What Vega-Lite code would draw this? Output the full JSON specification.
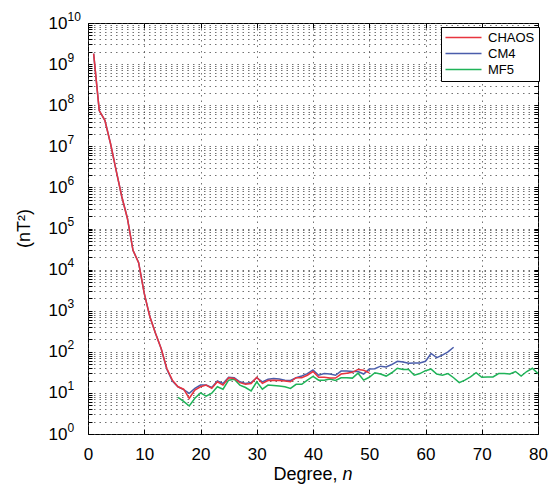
{
 "$schema": "https://vega.github.io/schema/vega-lite/v6.json",
 "width": 450,
 "height": 411,
 "autosize": {"type": "none"},
 "padding": {"left": 88, "top": 23, "right": 10, "bottom": 50},
 "config": {
  "view": {"stroke": "#000", "strokeWidth": 1},
  "font": "Liberation Sans",
  "axis": {"domain": false, "labelFlush": false, "labelOverlap": false, "labelBound": false, "labelColor": "#000", "titleColor": "#000", "tickColor": "#000", "gridColor": "#444", "gridDash": [1.5, 4], "gridOpacity": 0.75}
 },
 "datasets": {
  "spectra": [
   {"degree": 1, "model": "CHAOS", "power": 1.8e9}, {"degree": 2, "model": "CHAOS", "power": 7.4e7}, {"degree": 3, "model": "CHAOS", "power": 4.3e7}, {"degree": 4, "model": "CHAOS", "power": 1.17e7}, {"degree": 5, "model": "CHAOS", "power": 2.6e6}, {"degree": 6, "model": "CHAOS", "power": 6.0e5}, {"degree": 7, "model": "CHAOS", "power": 1.78e5}, {"degree": 8, "model": "CHAOS", "power": 2.95e4}, {"degree": 9, "model": "CHAOS", "power": 1.48e4}, {"degree": 10, "model": "CHAOS", "power": 2630}, {"degree": 11, "model": "CHAOS", "power": 708}, {"degree": 12, "model": "CHAOS", "power": 282}, {"degree": 13, "model": "CHAOS", "power": 120}, {"degree": 14, "model": "CHAOS", "power": 39.8}, {"degree": 15, "model": "CHAOS", "power": 20.4}, {"degree": 16, "model": "CHAOS", "power": 14.1}, {"degree": 17, "model": "CHAOS", "power": 12.3}, {"degree": 18, "model": "CHAOS", "power": 7.4}, {"degree": 19, "model": "CHAOS", "power": 11.7}, {"degree": 20, "model": "CHAOS", "power": 14.1}, {"degree": 21, "model": "CHAOS", "power": 15.5}, {"degree": 22, "model": "CHAOS", "power": 12.9}, {"degree": 23, "model": "CHAOS", "power": 18.6}, {"degree": 24, "model": "CHAOS", "power": 15.5}, {"degree": 25, "model": "CHAOS", "power": 23.4}, {"degree": 26, "model": "CHAOS", "power": 22.4}, {"degree": 27, "model": "CHAOS", "power": 17.8}, {"degree": 28, "model": "CHAOS", "power": 16.2}, {"degree": 29, "model": "CHAOS", "power": 17.0}, {"degree": 30, "model": "CHAOS", "power": 24.0}, {"degree": 31, "model": "CHAOS", "power": 17.0}, {"degree": 32, "model": "CHAOS", "power": 20.0}, {"degree": 33, "model": "CHAOS", "power": 20.4}, {"degree": 34, "model": "CHAOS", "power": 20.0}, {"degree": 35, "model": "CHAOS", "power": 19.5}, {"degree": 36, "model": "CHAOS", "power": 18.6}, {"degree": 37, "model": "CHAOS", "power": 23.4}, {"degree": 38, "model": "CHAOS", "power": 23.4}, {"degree": 39, "model": "CHAOS", "power": 26.9}, {"degree": 40, "model": "CHAOS", "power": 33.1}, {"degree": 41, "model": "CHAOS", "power": 24.0}, {"degree": 42, "model": "CHAOS", "power": 24.0}, {"degree": 43, "model": "CHAOS", "power": 22.9}, {"degree": 44, "model": "CHAOS", "power": 22.9}, {"degree": 45, "model": "CHAOS", "power": 28.8}, {"degree": 46, "model": "CHAOS", "power": 30.2}, {"degree": 47, "model": "CHAOS", "power": 31.6}, {"degree": 48, "model": "CHAOS", "power": 37.2}, {"degree": 49, "model": "CHAOS", "power": 35.5}, {"degree": 50, "model": "CHAOS", "power": 30.9},
   {"degree": 1, "model": "CM4", "power": 1.8e9}, {"degree": 2, "model": "CM4", "power": 7.4e7}, {"degree": 3, "model": "CM4", "power": 4.3e7}, {"degree": 4, "model": "CM4", "power": 1.17e7}, {"degree": 5, "model": "CM4", "power": 2.6e6}, {"degree": 6, "model": "CM4", "power": 6.0e5}, {"degree": 7, "model": "CM4", "power": 1.78e5}, {"degree": 8, "model": "CM4", "power": 2.95e4}, {"degree": 9, "model": "CM4", "power": 1.48e4}, {"degree": 10, "model": "CM4", "power": 2630}, {"degree": 11, "model": "CM4", "power": 708}, {"degree": 12, "model": "CM4", "power": 282}, {"degree": 13, "model": "CM4", "power": 120}, {"degree": 14, "model": "CM4", "power": 38.0}, {"degree": 15, "model": "CM4", "power": 19.5}, {"degree": 16, "model": "CM4", "power": 14.1}, {"degree": 17, "model": "CM4", "power": 12.0}, {"degree": 18, "model": "CM4", "power": 9.8}, {"degree": 19, "model": "CM4", "power": 12.9}, {"degree": 20, "model": "CM4", "power": 15.5}, {"degree": 21, "model": "CM4", "power": 15.5}, {"degree": 22, "model": "CM4", "power": 13.5}, {"degree": 23, "model": "CM4", "power": 19.5}, {"degree": 24, "model": "CM4", "power": 17.0}, {"degree": 25, "model": "CM4", "power": 24.0}, {"degree": 26, "model": "CM4", "power": 23.4}, {"degree": 27, "model": "CM4", "power": 18.6}, {"degree": 28, "model": "CM4", "power": 17.0}, {"degree": 29, "model": "CM4", "power": 17.8}, {"degree": 30, "model": "CM4", "power": 23.4}, {"degree": 31, "model": "CM4", "power": 18.6}, {"degree": 32, "model": "CM4", "power": 21.4}, {"degree": 33, "model": "CM4", "power": 22.4}, {"degree": 34, "model": "CM4", "power": 21.9}, {"degree": 35, "model": "CM4", "power": 20.4}, {"degree": 36, "model": "CM4", "power": 20.0}, {"degree": 37, "model": "CM4", "power": 23.4}, {"degree": 38, "model": "CM4", "power": 25.7}, {"degree": 39, "model": "CM4", "power": 29.5}, {"degree": 40, "model": "CM4", "power": 36.3}, {"degree": 41, "model": "CM4", "power": 26.9}, {"degree": 42, "model": "CM4", "power": 29.5}, {"degree": 43, "model": "CM4", "power": 28.8}, {"degree": 44, "model": "CM4", "power": 26.9}, {"degree": 45, "model": "CM4", "power": 33.9}, {"degree": 46, "model": "CM4", "power": 33.9}, {"degree": 47, "model": "CM4", "power": 33.1}, {"degree": 48, "model": "CM4", "power": 33.1}, {"degree": 49, "model": "CM4", "power": 28.8}, {"degree": 50, "model": "CM4", "power": 38.0}, {"degree": 51, "model": "CM4", "power": 38.9}, {"degree": 52, "model": "CM4", "power": 44.7}, {"degree": 53, "model": "CM4", "power": 42.7}, {"degree": 54, "model": "CM4", "power": 49.0}, {"degree": 55, "model": "CM4", "power": 58.9}, {"degree": 56, "model": "CM4", "power": 56.2}, {"degree": 57, "model": "CM4", "power": 52.5}, {"degree": 58, "model": "CM4", "power": 53.7}, {"degree": 59, "model": "CM4", "power": 53.7}, {"degree": 60, "model": "CM4", "power": 58.9}, {"degree": 61, "model": "CM4", "power": 91.2}, {"degree": 62, "model": "CM4", "power": 72.4}, {"degree": 63, "model": "CM4", "power": 83.2}, {"degree": 64, "model": "CM4", "power": 100}, {"degree": 65, "model": "CM4", "power": 129},
   {"degree": 16, "model": "MF5", "power": 7.8}, {"degree": 17, "model": "MF5", "power": 6.2}, {"degree": 18, "model": "MF5", "power": 4.8}, {"degree": 19, "model": "MF5", "power": 7.4}, {"degree": 20, "model": "MF5", "power": 10.0}, {"degree": 21, "model": "MF5", "power": 8.3}, {"degree": 22, "model": "MF5", "power": 9.8}, {"degree": 23, "model": "MF5", "power": 14.1}, {"degree": 24, "model": "MF5", "power": 12.3}, {"degree": 25, "model": "MF5", "power": 20.4}, {"degree": 26, "model": "MF5", "power": 21.4}, {"degree": 27, "model": "MF5", "power": 15.5}, {"degree": 28, "model": "MF5", "power": 13.5}, {"degree": 29, "model": "MF5", "power": 11.2}, {"degree": 30, "model": "MF5", "power": 18.6}, {"degree": 31, "model": "MF5", "power": 12.3}, {"degree": 32, "model": "MF5", "power": 15.5}, {"degree": 33, "model": "MF5", "power": 15.1}, {"degree": 34, "model": "MF5", "power": 14.8}, {"degree": 35, "model": "MF5", "power": 14.1}, {"degree": 36, "model": "MF5", "power": 12.9}, {"degree": 37, "model": "MF5", "power": 16.2}, {"degree": 38, "model": "MF5", "power": 16.2}, {"degree": 39, "model": "MF5", "power": 20.4}, {"degree": 40, "model": "MF5", "power": 25.1}, {"degree": 41, "model": "MF5", "power": 20.4}, {"degree": 42, "model": "MF5", "power": 20.4}, {"degree": 43, "model": "MF5", "power": 21.9}, {"degree": 44, "model": "MF5", "power": 20.0}, {"degree": 45, "model": "MF5", "power": 23.4}, {"degree": 46, "model": "MF5", "power": 23.4}, {"degree": 47, "model": "MF5", "power": 22.9}, {"degree": 48, "model": "MF5", "power": 30.2}, {"degree": 49, "model": "MF5", "power": 20.4}, {"degree": 50, "model": "MF5", "power": 24.0}, {"degree": 51, "model": "MF5", "power": 30.9}, {"degree": 52, "model": "MF5", "power": 28.8}, {"degree": 53, "model": "MF5", "power": 25.7}, {"degree": 54, "model": "MF5", "power": 30.9}, {"degree": 55, "model": "MF5", "power": 39.8}, {"degree": 56, "model": "MF5", "power": 37.2}, {"degree": 57, "model": "MF5", "power": 37.2}, {"degree": 58, "model": "MF5", "power": 26.9}, {"degree": 59, "model": "MF5", "power": 29.5}, {"degree": 60, "model": "MF5", "power": 34.7}, {"degree": 61, "model": "MF5", "power": 38.0}, {"degree": 62, "model": "MF5", "power": 28.8}, {"degree": 63, "model": "MF5", "power": 26.9}, {"degree": 64, "model": "MF5", "power": 29.5}, {"degree": 65, "model": "MF5", "power": 23.4}, {"degree": 66, "model": "MF5", "power": 17.8}, {"degree": 67, "model": "MF5", "power": 20.4}, {"degree": 68, "model": "MF5", "power": 24.5}, {"degree": 69, "model": "MF5", "power": 30.9}, {"degree": 70, "model": "MF5", "power": 24.0}, {"degree": 71, "model": "MF5", "power": 24.5}, {"degree": 72, "model": "MF5", "power": 24.5}, {"degree": 73, "model": "MF5", "power": 29.5}, {"degree": 74, "model": "MF5", "power": 29.5}, {"degree": 75, "model": "MF5", "power": 28.8}, {"degree": 76, "model": "MF5", "power": 33.1}, {"degree": 77, "model": "MF5", "power": 25.7}, {"degree": 78, "model": "MF5", "power": 33.1}, {"degree": 79, "model": "MF5", "power": 39.8}, {"degree": 80, "model": "MF5", "power": 29.5}
  ]
 },
 "data": {"name": "spectra"},
 "layer": [
  {
   "transform": [{"filter": "datum.model != 'CHAOS'"}],
   "mark": {"type": "line", "strokeWidth": 1.5},
   "encoding": {
    "x": {"field": "degree", "type": "quantitative", "scale": {"domain": [0, 80], "nice": false, "zero": false},
     "axis": {"orient": "bottom", "values": [0, 10, 20, 30, 40, 50, 60, 70, 80], "grid": true, "tickSize": -5, "labelPadding": 17, "labelFontSize": 17, "title": "Degree,", "titleFontSize": 18, "titleFontWeight": "normal", "titleX": 185, "titleY": 40, "titleAlign": "left", "titleBaseline": "middle"}},
    "y": {"field": "power", "type": "quantitative", "scale": {"type": "log", "domain": [1, 1e10], "nice": false},
     "axis": {"orient": "left", "values": [1,2,3,4,5,6,7,8,9,10,20,30,40,50,60,70,80,90,100,200,300,400,500,600,700,800,900,1000,2000,3000,4000,5000,6000,7000,8000,9000,1e4,2e4,3e4,4e4,5e4,6e4,7e4,8e4,9e4,1e5,2e5,3e5,4e5,5e5,6e5,7e5,8e5,9e5,1e6,2e6,3e6,4e6,5e6,6e6,7e6,8e6,9e6,1e7,2e7,3e7,4e7,5e7,6e7,7e7,8e7,9e7,1e8,2e8,3e8,4e8,5e8,6e8,7e8,8e8,9e8,1e9,2e9,3e9,4e9,5e9,6e9,7e9,8e9,9e9,1e10],
      "grid": true, "tickSize": -4, "labelPadding": 44, "labelAlign": "left", "labelBaseline": "middle", "labelFontSize": 17,
      "labelExpr": "indexof([1,10,100,1000,10000,100000,1000000,10000000,100000000,1000000000,10000000000], datum.value) >= 0 ? '10' : ''", "title": null}},
    "color": {"field": "model", "type": "nominal", "scale": {"domain": ["CHAOS", "CM4", "MF5"], "range": ["#e8343f", "#4a5dab", "#1fb358"]},
     "legend": {"title": null, "orient": "none", "legendX": 353, "legendY": 4, "strokeColor": "#000", "fillColor": "#fff", "padding": 4, "symbolType": "M-4,0H4", "symbolSize": 81, "symbolStrokeWidth": 1.5, "symbolOffset": 12, "labelFontSize": 13, "labelColor": "#000", "labelOffset": 18, "rowPadding": 2}}
   }
  },
  {
   "transform": [{"filter": "datum.model == 'CHAOS'"}],
   "mark": {"type": "line", "strokeWidth": 1.5},
   "encoding": {
    "x": {"field": "degree", "type": "quantitative", "scale": {"domain": [0, 80], "nice": false, "zero": false},
     "axis": {"orient": "bottom", "ticks": false, "labels": false, "grid": false, "title": "n", "titleFontStyle": "italic", "titleFontSize": 18, "titleFontWeight": "normal", "titleX": 254, "titleY": 40, "titleAlign": "left", "titleBaseline": "middle"}},
    "y": {"field": "power", "type": "quantitative", "scale": {"type": "log", "domain": [1, 1e10], "nice": false},
     "axis": {"orient": "left", "values": [1,10,100,1000,10000,100000,1000000,10000000,100000000,1000000000,10000000000], "grid": false, "ticks": false, "tickSize": 0, "labelPadding": 21, "labelAlign": "left", "labelBaseline": "middle", "labelOffset": -7, "labelFontSize": 12,
      "labelExpr": "['0','1','2','3','4','5','6','7','8','9','10'][round(log(datum.value)/LN10)]",
      "title": "(nT²)", "titleFontSize": 18, "titleFontWeight": "normal", "titleX": -64, "titleY": 205, "titleAngle": -90, "titleAlign": "center", "titleBaseline": "middle"}},
    "color": {"field": "model", "type": "nominal", "scale": {"domain": ["CHAOS", "CM4", "MF5"], "range": ["#e8343f", "#4a5dab", "#1fb358"]},
     "legend": {"title": null, "orient": "none", "legendX": 353, "legendY": 4, "strokeColor": "#000", "fillColor": "#fff", "padding": 4, "symbolType": "M-4,0H4", "symbolSize": 81, "symbolStrokeWidth": 1.5, "symbolOffset": 12, "labelFontSize": 13, "labelColor": "#000", "labelOffset": 18, "rowPadding": 2}}
   }
  },
  {
   "mark": {"type": "point", "opacity": 0},
   "encoding": {
    "x": {"field": "degree", "type": "quantitative", "scale": {"domain": [0, 80], "nice": false, "zero": false},
     "axis": {"orient": "top", "values": [0, 10, 20, 30, 40, 50, 60, 70, 80], "grid": false, "labels": false, "tickSize": -5, "title": null}},
    "y": {"field": "power", "type": "quantitative", "scale": {"type": "log", "domain": [1, 1e10], "nice": false},
     "axis": {"orient": "right", "values": [1,2,3,4,5,6,7,8,9,10,20,30,40,50,60,70,80,90,100,200,300,400,500,600,700,800,900,1000,2000,3000,4000,5000,6000,7000,8000,9000,1e4,2e4,3e4,4e4,5e4,6e4,7e4,8e4,9e4,1e5,2e5,3e5,4e5,5e5,6e5,7e5,8e5,9e5,1e6,2e6,3e6,4e6,5e6,6e6,7e6,8e6,9e6,1e7,2e7,3e7,4e7,5e7,6e7,7e7,8e7,9e7,1e8,2e8,3e8,4e8,5e8,6e8,7e8,8e8,9e8,1e9,2e9,3e9,4e9,5e9,6e9,7e9,8e9,9e9,1e10], "grid": false, "labels": false, "tickSize": -4, "title": null}}
   }
  }
 ],
 "resolve": {"axis": {"x": "independent", "y": "independent"}}
}
